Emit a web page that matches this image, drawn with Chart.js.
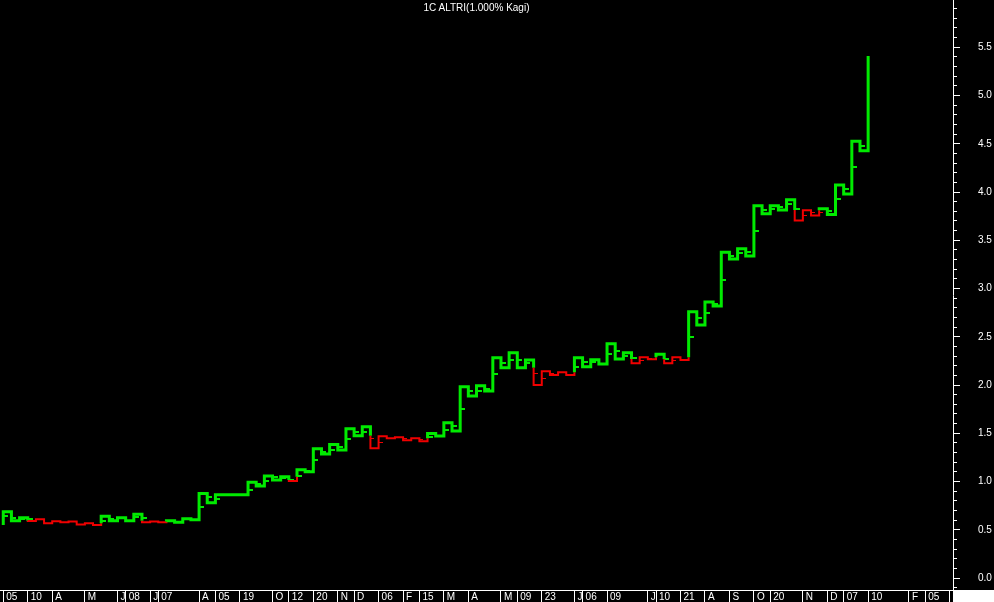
<!DOCTYPE html>
<html>
<head>
<meta charset="utf-8">
<script src="https://cdn.jsdelivr.net/npm/chart.js@4/dist/chart.umd.min.js"></script>
<style>
  html, body { margin: 0; padding: 0; background: #000; }
  #wrap { position: relative; width: 994px; height: 602px; }
  #title { position: absolute; top: 2px; left: 0; width: 953px; text-align: center; color: #fff;
           font: 10px Arial, "Liberation Sans", sans-serif; }
  #corner { position: absolute; left: 953px; top: 590px; width: 41px; height: 12px; background: #fff; }
</style>
</head>
<body>
<div id="wrap">
  <canvas id="kagiChart" width="994" height="602" style="width:994px;height:602px"></canvas>
  <div id="title">1C ALTRI(1.000% Kagi)</div>
  <div id="corner"></div>
</div>
<script>
// kagi columns: column index on the time axis and price at the end of each vertical
const startPrice = 0.549;
const colIndex = [0, 1, 2, 3, 4, 5, 6, 7, 8, 9, 10, 11, 12, 13, 14, 15, 16, 17, 18, 19, 20, 21, 22, 23, 24, 25, 26,
  30, 31, 32, 33, 34, 35, 36, 37, 38, 39, 40, 41, 42, 43, 44, 45, 46, 47, 48, 49, 50, 51, 52, 53, 54, 55,
  56, 57, 58, 59, 60, 61, 62, 63, 64, 65, 66, 67, 68, 69, 70, 71, 72, 73, 74, 75, 76, 77, 78, 79, 80, 81, 82, 83,
  84, 85, 86, 87, 88, 89, 90, 91, 92, 93, 94, 95, 96, 97, 98, 99, 100, 101, 102, 103, 104, 105, 106];
const colPrice = [0.687, 0.594, 0.625, 0.591, 0.608, 0.567, 0.588, 0.577, 0.585, 0.556, 0.567, 0.549, 0.639,
  0.594, 0.625, 0.594, 0.660, 0.577, 0.587, 0.577, 0.594, 0.578, 0.615, 0.604, 0.877, 0.781, 0.864,
  0.992, 0.953, 1.057, 1.016, 1.050, 1.005, 1.122, 1.102, 1.340, 1.285, 1.385, 1.326, 1.547, 1.475, 1.568,
  1.344, 1.468, 1.448, 1.458, 1.427, 1.448, 1.417, 1.499, 1.472, 1.609, 1.523,
  1.982, 1.886, 1.993, 1.938, 2.283, 2.179, 2.335, 2.180, 2.259, 2.000, 2.142, 2.104, 2.132, 2.104, 2.283,
  2.190, 2.262, 2.218, 2.428, 2.269, 2.335, 2.225, 2.287, 2.266, 2.318, 2.225, 2.287, 2.259,
  2.760, 2.622, 2.860, 2.819, 3.375, 3.306, 3.413, 3.337, 3.858, 3.775, 3.858, 3.813, 3.920, 3.706,
  3.810, 3.758, 3.827, 3.768, 4.073, 3.979, 4.525, 4.428, 5.409];

// period marks (small nubs on the verticals)
const markCol = [0, 1, 2, 3, 12, 13, 16, 17, 24, 25, 26, 30, 31, 32, 33, 34, 35, 36, 37, 38, 39, 40, 41, 42, 43, 44,
  45, 46, 49, 51, 52, 54, 55, 56, 57, 58, 59, 60, 61, 62, 63, 64, 65, 66, 67, 68, 69, 70, 71, 72, 74, 75, 76, 77,
  78, 79, 81, 82, 83, 84, 85, 86, 87, 88, 89, 90, 91, 92, 93, 94, 95, 96, 97, 98, 99, 100, 101, 102, 103, 104, 105];
const markPrice = [0.640, 0.618, 0.615, 0.608, 0.594, 0.615, 0.632, 0.618, 0.739, 0.836, 0.822, 0.912, 0.974,
  1.009, 1.043, 1.036, 1.016, 1.057, 1.112, 1.223, 1.302, 1.330, 1.361, 1.444, 1.516, 1.513,
  1.448, 1.406, 1.448, 1.434, 1.464, 1.534, 1.575, 1.752, 1.941, 1.941, 1.962, 2.117, 2.231, 2.259, 2.259, 2.225,
  2.121, 2.069, 2.121, 2.128, 2.114, 2.190, 2.242, 2.235, 2.321, 2.356, 2.301, 2.277,
  2.256, 2.280, 2.269, 2.256, 2.266, 2.501, 2.691, 2.743, 2.836, 3.091, 3.333, 3.368, 3.375, 3.599, 3.817, 3.824,
  3.848, 3.872, 3.820, 3.758, 3.786, 3.790, 3.806, 3.927, 4.031, 4.262, 4.477];

const xTickPos = [0, 3, 6, 10, 14, 15, 18, 19, 24, 26, 29, 33, 35, 38, 41, 43, 46, 49, 51, 54,
  57, 61, 63, 66, 70, 71, 74, 79, 80, 83, 86, 89, 92, 94, 98, 101, 103, 106, 111, 113, 116];
const xTickLabels = ['05', '10', 'A', 'M', 'J', '08', 'J', '07', 'A', '05', '19', 'O', '12', '20', 'N', 'D', '06', 'F', '15', 'M',
  'A', 'M', '09', '23', 'J', '06', '09', 'J', '10', '21', 'A', 'S', 'O', '20', 'N', 'D', '07', '10', 'F', '05', '05'];
const yTickValues = [0.0, 0.5, 1.0, 1.5, 2.0, 2.5, 3.0, 3.5, 4.0, 4.5, 5.0, 5.5];

const GREEN = '#00ea00';
const RED = '#f00000';
const Y_MIN = -0.124, Y_MAX = 5.99;

// yang/yin switching: above previous shoulder -> yang, below previous waist -> yin
function buildKagi() {
  const pts = [{ x: colIndex[0], y: startPrice, yang: true }];
  let yang = true, prev = startPrice, shoulder = null, waist = null;
  colIndex.forEach((k, i) => {
    const v = colPrice[i];
    if (v > prev) {
      if (!yang && shoulder !== null && v > shoulder) {
        pts.push({ x: k, y: shoulder, yang: false });
        yang = true;
      }
      waist = prev;
    } else {
      if (yang && waist !== null && v < waist) {
        pts.push({ x: k, y: waist, yang: true });
        yang = false;
      }
      shoulder = prev;
    }
    pts.push({ x: k, y: v, yang });
    prev = v;
  });
  return pts;
}

const kagiPts = buildKagi();

// nub takes the colour of the vertical piece it sits on
function stateAt(k, v) {
  for (let i = 1; i < kagiPts.length; i++) {
    const a = kagiPts[i - 1], b = kagiPts[i];
    if (b.x !== k) continue;
    if (v >= Math.min(a.y, b.y) && v <= Math.max(a.y, b.y)) return b.yang;
  }
  return true;
}
const markPts = markCol.map((k, i) => ({ x: k, y: markPrice[i], yang: stateAt(k, markPrice[i]) }));

function nubImage(color, w, h) {
  const c = document.createElement('canvas');
  c.width = w * 2; c.height = h;
  const g = c.getContext('2d');
  g.fillStyle = color;
  g.fillRect(w, 0, w, h);
  return c;
}
const greenNub = nubImage(GREEN, 5, 2);
const redNub = nubImage(RED, 4, 1);

const minorTicks = [];
for (let i = -1; i <= 59; i++) minorTicks.push(i / 10);

Chart.defaults.font.family = 'Arial, "Liberation Sans", sans-serif';
Chart.defaults.font.size = 10;
Chart.defaults.color = '#fff';

new Chart(document.getElementById('kagiChart'), {
  type: 'line',
  data: {
    datasets: [{
      data: kagiPts,
      stepped: true,
      pointRadius: 0,
      borderJoinStyle: 'miter',
      borderCapStyle: 'butt',
      borderColor: GREEN,
      borderWidth: 3,
      segment: {
        borderColor: c => kagiPts[c.p1DataIndex].yang ? GREEN : RED,
        borderWidth: c => kagiPts[c.p1DataIndex].yang ? 3 : 2
      },
      yAxisID: 'y'
    }, {
      data: markPts,
      showLine: false,
      pointRadius: 3,
      pointStyle: c => (markPts[c.dataIndex] && markPts[c.dataIndex].yang) ? greenNub : redNub,
      yAxisID: 'y'
    }]
  },
  options: {
    responsive: false,
    animation: false,
    events: [],
    layout: { padding: 0, autoPadding: false },
    plugins: { legend: { display: false }, tooltip: { enabled: false } },
    scales: {
      x: {
        type: 'linear',
        min: -0.4,
        max: 116.4,
        afterBuildTicks: s => { s.ticks = xTickPos.map(v => ({ value: v })); },
        afterFit: s => { s.height = 12; s.paddingLeft = 0; s.paddingRight = 0; },
        grid: { drawOnChartArea: false, tickLength: 12, tickColor: '#fff' },
        border: { color: '#fff' },
        ticks: {
          autoSkip: false, maxRotation: 0, minRotation: 0, align: 'start', labelOffset: 3, padding: -11,
          color: '#fff', callback: (v, i) => xTickLabels[i]
        }
      },
      yMinor: {
        position: 'right',
        weight: 0,
        min: Y_MIN, max: Y_MAX,
        afterBuildTicks: s => { s.ticks = minorTicks.map(v => ({ value: v })); },
        afterFit: s => { s.width = 0; s.paddingTop = 0; s.paddingBottom = 0; },
        grid: { drawOnChartArea: false, tickLength: 4, tickColor: '#fff' },
        border: { display: false },
        ticks: { display: false }
      },
      y: {
        position: 'right',
        weight: 1,
        min: Y_MIN, max: Y_MAX,
        afterBuildTicks: s => { s.ticks = yTickValues.map(v => ({ value: v })); },
        afterFit: s => { s.width = 41; s.paddingTop = 0; s.paddingBottom = 0; },
        grid: { drawOnChartArea: false, tickLength: 7, tickColor: '#fff' },
        border: { color: '#fff' },
        ticks: { padding: 18, color: '#fff', callback: v => v.toFixed(1) }
      }
    }
  }
});
</script>
</body>
</html>
